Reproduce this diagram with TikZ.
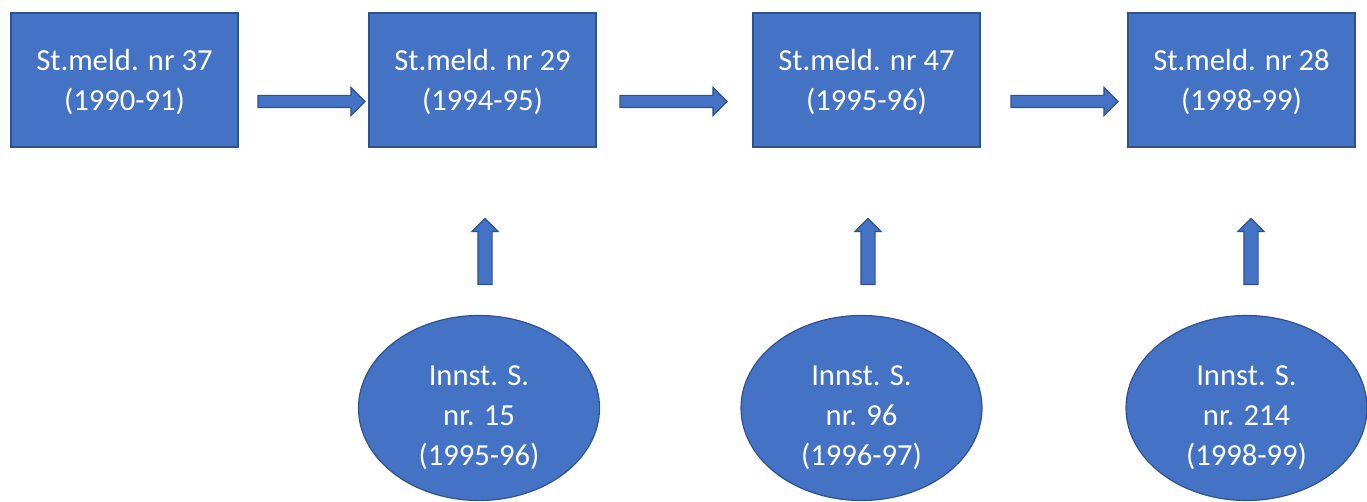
\documentclass[tikz,border=0pt]{standalone}
\usepackage{fontspec}
\setmainfont{Carlito}
\usetikzlibrary{shapes.geometric,shapes.arrows}
\definecolor{fillblue}{HTML}{4472C4}
\definecolor{edgeblue}{HTML}{2F528F}
\begin{document}
\begin{tikzpicture}[x=1pt,y=1pt,
  txt/.style={text=white,align=center,font=\fontsize{30.6}{40}\selectfont,inner sep=0pt},
  boxnode/.style={rectangle,fill=fillblue,draw=edgeblue,line width=1.2pt,minimum width=227pt,minimum height=134pt,inner sep=0pt},
  ellnode/.style={ellipse,fill=fillblue,draw=edgeblue,line width=1.2pt,minimum width=241pt,minimum height=185pt,inner sep=0pt},
  harrow/.style={single arrow,fill=fillblue,draw=edgeblue,line width=1.2pt,minimum height=107pt,minimum width=27pt,single arrow head extend=8pt,inner sep=0pt,inner ysep=5.5pt},
  varrow/.style={single arrow,fill=fillblue,draw=edgeblue,line width=1.2pt,minimum height=66pt,minimum width=25pt,single arrow head extend=6pt,inner sep=0pt,inner ysep=6.5pt,rotate=90}
]
\useasboundingbox (0,0) rectangle (1367,502);
% boxes
\node[boxnode] (b1) at (124.5,422) {};
\node[boxnode] (b2) at (482.5,422) {};
\node[boxnode] (b3) at (866.5,422) {};
\node[boxnode] (b4) at (1241.5,422) {};
\node[txt] (t1) at (124.5,420) {St.meld. nr 37\\(1990-91)};
\node[txt] (t2) at (482.5,420) {St.meld. nr 29\\(1994-95)};
\node[txt] (t3) at (866.5,420) {St.meld. nr 47\\(1995-96)};
\node[txt] (t4) at (1241.5,420) {St.meld. nr 28\\(1998-99)};
% horizontal arrows
\node[harrow] (h1) at (308.5,400.5) {};
\node[harrow] (h2) at (670.5,400.5) {};
\node[harrow] (h3) at (1061.5,400.5) {};
% vertical arrows
\node[varrow] (v1) at (485,247) {};
\node[varrow] (v2) at (868,247) {};
\node[varrow] (v3) at (1251,247) {};
% ellipses
\node[ellnode] (e1) at (479,94) {};
\node[ellnode] (e2) at (861.5,94) {};
\node[ellnode] (e3) at (1246.5,94) {};
\node[txt] (u1) at (479,84) {Innst. S.\\nr. 15\\(1995-96)};
\node[txt] (u2) at (861.5,84) {Innst. S.\\nr. 96\\(1996-97)};
\node[txt] (u3) at (1246.5,84) {Innst. S.\\nr. 214\\(1998-99)};
\end{tikzpicture}
\end{document}
